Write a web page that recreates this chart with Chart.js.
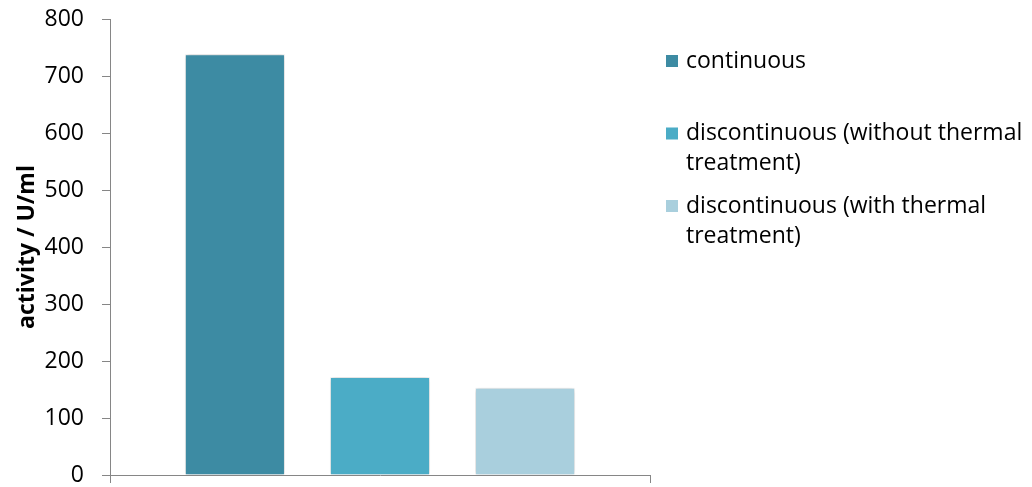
<!DOCTYPE html>
<html>
<head>
<meta charset="utf-8">
<script src="https://cdn.jsdelivr.net/npm/chart.js@4"></script>
<style>
  html, body { margin: 0; padding: 0; background: #fff; }
  #wrap { width: 1032px; height: 487px; position: relative; }
</style>
</head>
<body>
<div id="wrap"><canvas id="activityChart"></canvas></div>
<script>
// Activity per mode of operation
const categories = [''];
const seriesLabels = [
    'continuous',
    'discontinuous (without thermal treatment)',
    'discontinuous (with thermal treatment)'
];
const legendLines = [
    ['continuous'],
    ['discontinuous (without thermal', 'treatment)'],
    ['discontinuous (with thermal', 'treatment)']
];
const seriesValues = [[738], [172], [153]];
const seriesColors = ['#3D8BA3', '#4BACC6', '#A9CFDD'];
const yTicks = [0, 100, 200, 300, 400, 500, 600, 700, 800];

const FONT = "'Open Sans', sans-serif";
const AXIS_GREY = '#868686';

// soft shadow around the bars, like the office chart style
const barShadow = {
    id: 'barShadow',
    beforeDatasetsDraw(chart) {
        const ctx = chart.ctx;
        ctx.save();
        ctx.shadowColor = 'rgba(0, 0, 0, 0.28)';
        ctx.shadowBlur = 5;
        ctx.shadowOffsetX = 0;
        ctx.shadowOffsetY = 0;
    },
    afterDatasetsDraw(chart) {
        chart.ctx.restore();
    }
};

// legend on the right with wrapped labels
const sideLegend = {
    id: 'sideLegend',
    afterDraw(chart) {
        const ctx = chart.ctx;
        ctx.save();
        ctx.font = '23px ' + FONT;
        ctx.textBaseline = 'middle';
        chart.data.datasets.forEach((ds, i) => {
            const y = 61 + i * 72.5;
            ctx.fillStyle = ds.backgroundColor;
            ctx.fillRect(666, y - 6, 12, 12);
            ctx.fillStyle = '#000';
            legendLines[i].forEach((line, j) => {
                ctx.fillText(line, 686, y + j * 30);
            });
        });
        ctx.restore();
    }
};

const datasets = seriesLabels.map((label, i) => ({
    label: label,
    data: seriesValues[i],
    backgroundColor: seriesColors[i],
    borderColor: 'rgba(255, 255, 255, 0.6)',
    borderWidth: 1,
    categoryPercentage: 0.806,
    barPercentage: 0.69
}));

new Chart(document.getElementById('activityChart'), {
    type: 'bar',
    data: { labels: categories, datasets: datasets },
    options: {
        responsive: true,
        maintainAspectRatio: false,
        animation: false,
        layout: { padding: { top: 19, right: 382, left: 0, bottom: 0 } },
        plugins: {
            legend: { display: false },
            tooltip: { enabled: false }
        },
        scales: {
            x: {
                grid: {
                    display: true,
                    offset: true,
                    drawOnChartArea: false,
                    drawTicks: true,
                    tickLength: 8,
                    color: AXIS_GREY
                },
                border: { color: AXIS_GREY, width: 1 },
                ticks: { display: false },
                afterFit(scale) { scale.height = 12; }
            },
            y: {
                min: 0,
                max: 800,
                afterBuildTicks(scale) {
                    scale.ticks = yTicks.map(v => ({ value: v }));
                },
                grid: {
                    drawOnChartArea: false,
                    drawTicks: true,
                    tickLength: 8,
                    color: AXIS_GREY
                },
                border: { color: AXIS_GREY, width: 1 },
                ticks: {
                    color: '#000',
                    padding: 18,
                    font: { family: FONT, size: 23 }
                },
                title: {
                    display: true,
                    text: 'activity / U/ml',
                    color: '#000',
                    padding: { top: 14, bottom: 0 },
                    font: { family: FONT, size: 23, weight: 'bold' }
                },
                afterFit(scale) {
                    // fixed axis width, no extra room above/below for the labels
                    scale.width = 110;
                    scale.paddingTop = 0;
                    scale.paddingBottom = 0;
                }
            }
        }
    },
    plugins: [barShadow, sideLegend]
});
</script>
</body>
</html>
